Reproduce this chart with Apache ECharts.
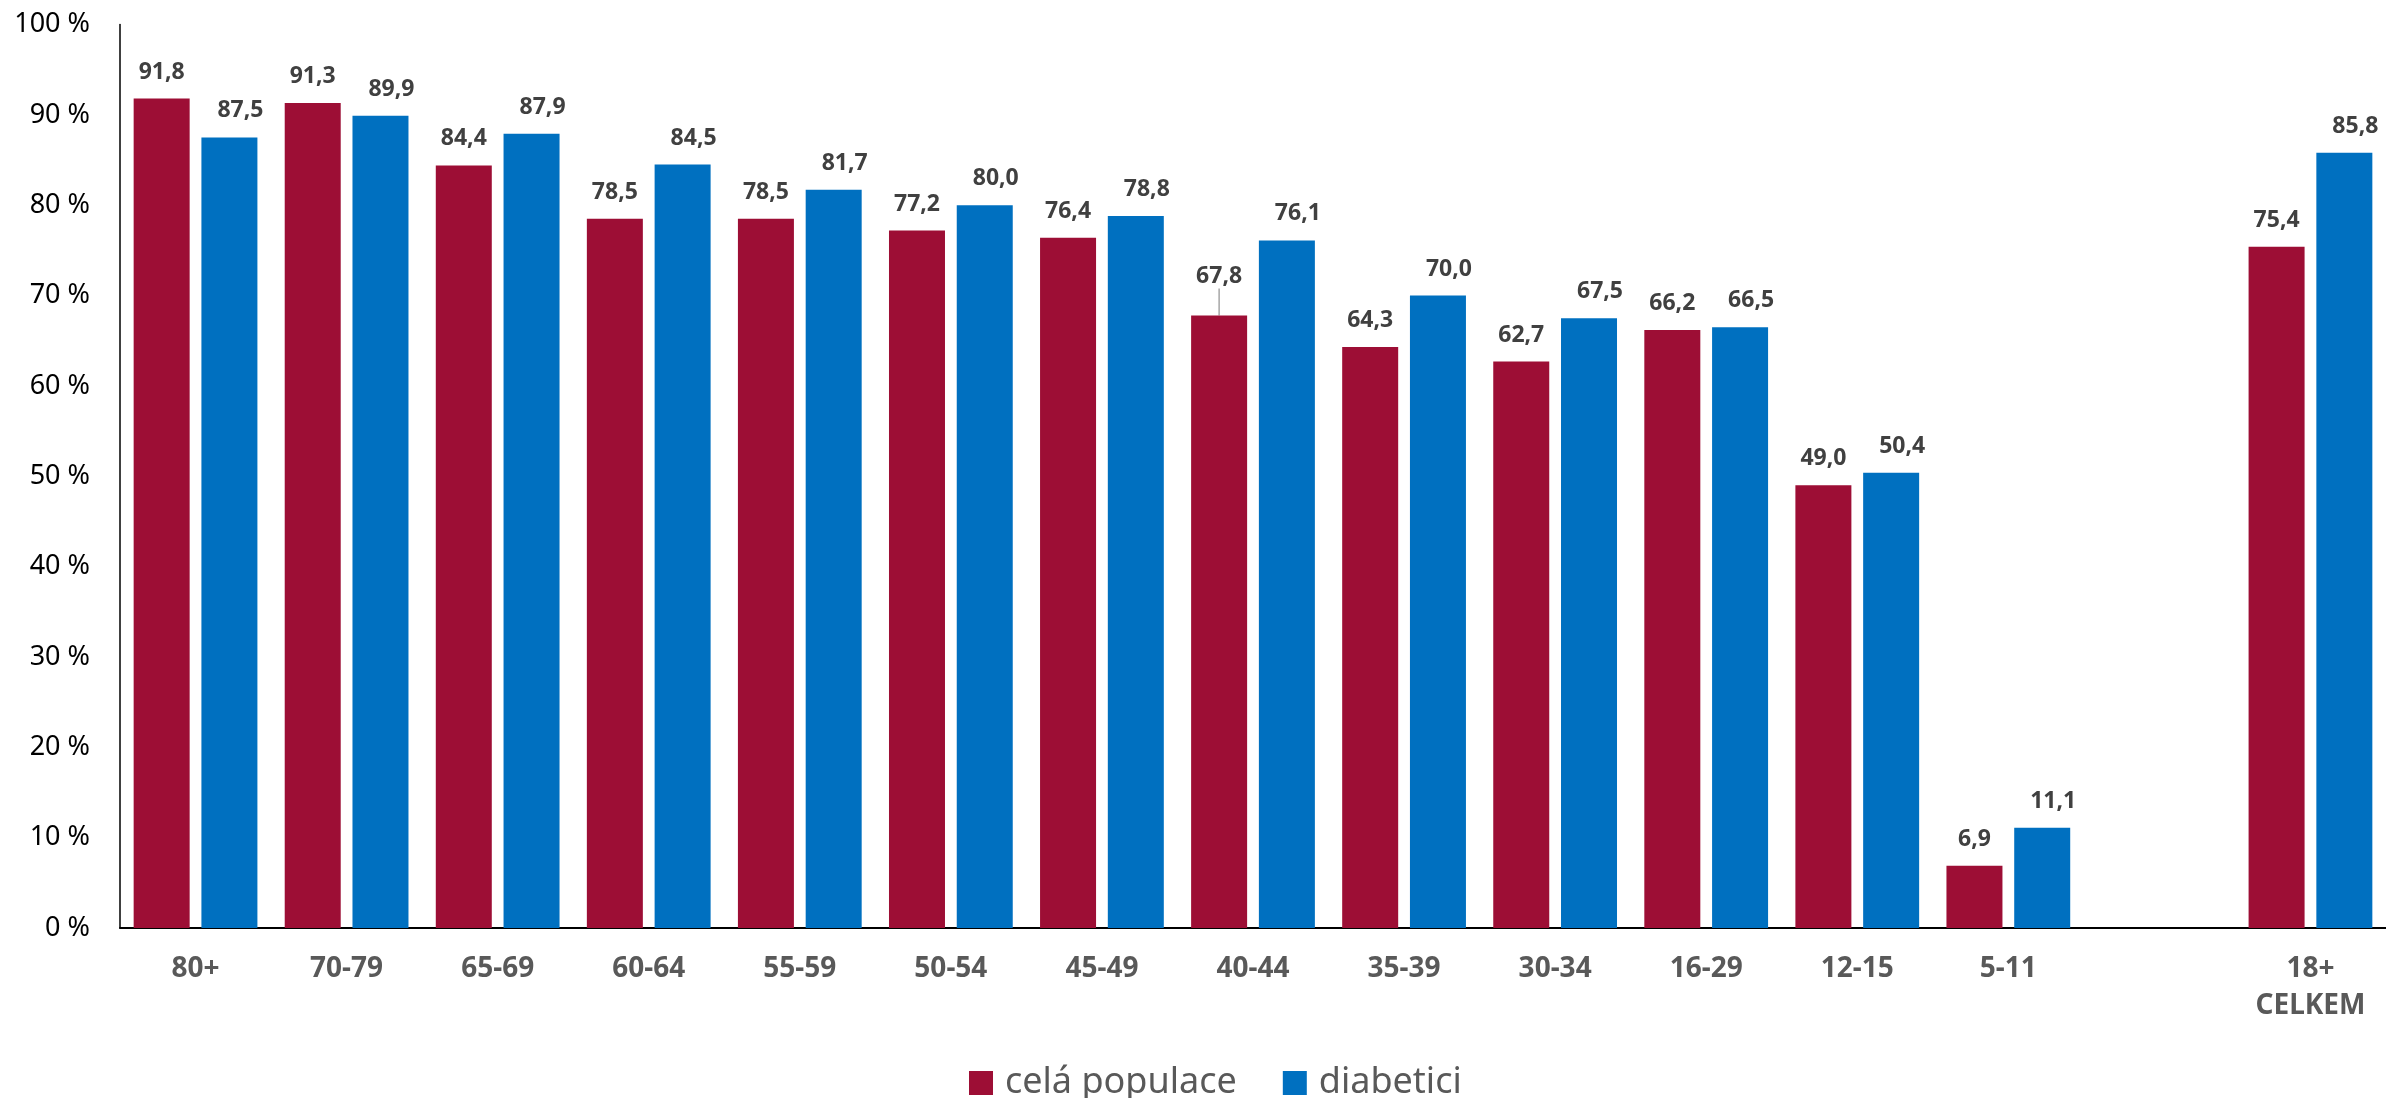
<!DOCTYPE html>
<html>
<head>
<meta charset="utf-8">
<script src="https://cdn.jsdelivr.net/npm/echarts@6/dist/echarts.min.js"></script>
<style>
html,body{margin:0;padding:0;background:#fff;}
#chart{width:2386px;height:1098px;}
</style>
</head>
<body>
<div id="chart"></div>
<script>
const categories = ['80+','70-79','65-69','60-64','55-59','50-54','45-49','40-44','35-39','30-34','16-29','12-15','5-11','','18+\nCELKEM'];
const celaPopulace = [91.8,91.3,84.4,78.5,78.5,77.2,76.4,67.8,64.3,62.7,66.2,49.0,6.9,null,75.4];
const diabetici = [87.5,89.9,87.9,84.5,81.7,80.0,78.8,76.1,70.0,67.5,66.5,50.4,11.1,null,85.8];
const seriesNames = ['celá populace','diabetici'];

const FONT = 'Noto Sans';
const fmt = p => p.value == null ? '' : Number(p.value).toFixed(1).replace('.', ',');

const chart = echarts.init(document.getElementById('chart'));
const labelBase = {
  show: true, position: 'top', distance: 15,
  fontFamily: FONT, fontWeight: 'bold', fontSize: 23, color: '#404040',
  formatter: fmt
};
const redData = celaPopulace.map((v, i) => i === 7
  ? { value: v, labelLine: { show: true, lineStyle: { color: '#a6a6a6', width: 1.5 } } }
  : v);
chart.setOption({
  animation: false,
  grid: { left: 120, right: -3, top: 24.5, bottom: 170, containLabel: false },
  legend: {
    left: 964, top: 1060,
    itemWidth: 24, itemHeight: 24, itemGap: 46,
    icon: 'rect',
    textStyle: { fontFamily: FONT, fontSize: 36, color: '#595959', padding: [0, 0, 0, 7] },
    data: seriesNames
  },
  xAxis: {
    type: 'category',
    data: categories,
    axisLine: { show: true, lineStyle: { color: '#000', width: 2 } },
    axisTick: { show: false },
    axisLabel: {
      interval: 0, margin: 23, fontFamily: FONT, fontWeight: 'bold', fontSize: 28,
      color: '#595959', lineHeight: 37
    }
  },
  yAxis: {
    type: 'value', min: 0, max: 100, interval: 10,
    axisLine: { show: true, lineStyle: { color: '#000', width: 1.5 } },
    axisTick: { show: false },
    splitLine: { show: false },
    axisLabel: { formatter: '{value} %', fontFamily: FONT, fontSize: 27, color: '#000', margin: 30 }
  },
  series: [
    {
      name: seriesNames[0], type: 'bar', data: redData,
      barWidth: 56, barGap: '21%',
      itemStyle: { color: '#9D0E35' },
      label: Object.assign({}, labelBase, { offset: [-15, 0] }),
      labelLayout: function (p) { return p.dataIndex === 7 ? { dy: -12 } : {}; },
      labelLine: { show: false }
    },
    {
      name: seriesNames[1], type: 'bar', data: diabetici,
      barWidth: 56, barGap: '21%',
      itemStyle: { color: '#0070C0' },
      label: Object.assign({}, labelBase, { offset: [11, 0] })
    }
  ]
});
</script>
</body>
</html>
